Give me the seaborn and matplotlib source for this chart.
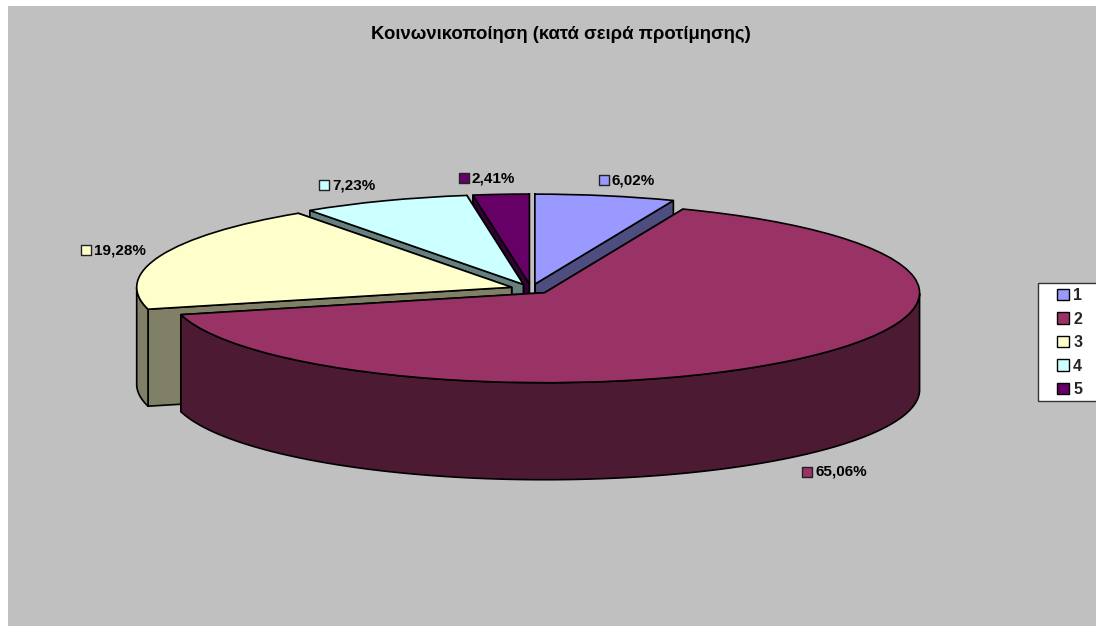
import numpy as np
import matplotlib
matplotlib.use("Agg")
import matplotlib.pyplot as plt
from matplotlib.patches import Rectangle
import seaborn as sns

# --- data ---
title = "Κοινωνικοποίηση (κατά σειρά προτίμησης)"
categories = ["1", "2", "3", "4", "5"]
values = [6.02, 65.06, 19.28, 7.23, 2.41]
value_labels = ["6,02%", "65,06%", "19,28%", "7,23%", "2,41%"]
top_colors = ["#9999FF", "#993366", "#FFFFCC", "#CCFFFF", "#660066"]

# --- layout (pixels of the 1096x626 canvas) ---
W, H = 1096, 626
PLOT_LEFT, PLOT_TOP = 8, 6
CX, CY, RX, RY, DEPTH = 531, 289, 375, 90, 97
EXPLODE = 0.055
label_marker_px = [(604, 180), (807, 472), (86, 250), (324, 185), (464, 178)]
draw_order = [4, 3, 0, 2, 1]   # back to front

sns.set_theme(style="white")
plt.rcParams["font.family"] = ["Liberation Sans", "DejaVu Sans"]
palette = sns.color_palette(top_colors)
dark_palette = [tuple(c * 0.5 for c in col) for col in palette]

fig = plt.figure(figsize=(W / 100, H / 100), dpi=100, facecolor="white")
ax = fig.add_axes([PLOT_LEFT / W, 0, (W - PLOT_LEFT) / W, (H - PLOT_TOP) / H])
ax.set_facecolor("#C0C0C0")

wedges, _ = ax.pie(values, colors=palette, explode=[EXPLODE] * len(values),
                   startangle=90, counterclock=False, radius=1, frame=True,
                   wedgeprops=dict(edgecolor="black", linewidth=1.2))
ax.set_aspect("auto")
ax.set_xlim((PLOT_LEFT - CX) / RX, (W - CX) / RX)
ax.set_ylim((CY - H) / RY, (CY - PLOT_TOP) / RY)
ax.set_xticks([]); ax.set_yticks([])
for s in ax.spines.values():
    s.set_visible(False)


def px(x, y):
    return (x - CX) / RX, (CY - y) / RY


depth = DEPTH / RY
for z, i in enumerate(draw_order):
    w = wedges[i]
    base = z * 10
    w.set_zorder(base + 3)
    cx, cy = w.center
    th = np.radians(np.linspace(w.theta1, w.theta2, 300))
    style = dict(facecolor=dark_palette[i], edgecolor="black", linewidth=1.2,
                 joinstyle="round")
    # cut faces
    for t in (th[0], th[-1]):
        rx_, ry_ = cx + np.cos(t), cy + np.sin(t)
        ax.fill([cx, rx_, rx_, cx], [cy, ry_, ry_ - depth, cy - depth],
                zorder=base + 1, **style)
    # outer rim wall (front half only)
    front = th[np.sin(th) < 0]
    if front.size > 1:
        xs = cx + np.cos(front)
        ys = cy + np.sin(front)
        ax.fill(np.r_[xs, xs[::-1]], np.r_[ys, ys[::-1] - depth],
                zorder=base + 2, **style)

# title
tx, ty = px(561, 34)
ax.text(tx, ty, title, ha="center", va="center", fontsize=13.3,
        fontweight="bold", color="black", zorder=200)

# data labels with their small colour keys
for (mx, my), lab, col in zip(label_marker_px, value_labels, palette):
    x, y = px(mx, my)
    ax.scatter([x], [y], marker="s", s=42, color=[col], edgecolors="#222222",
               linewidths=1, zorder=200)
    x2, y2 = px(mx + 8, my)
    ax.text(x2, y2, lab, ha="left", va="center", fontsize=11, fontweight="bold",
            color="black", zorder=200)

# legend box runs off the right edge
bx0, by0 = px(1038, 401)
bx1, by1 = px(1110, 283)
ax.add_patch(Rectangle((bx0, by0), bx1 - bx0, by1 - by0, facecolor="white",
                       edgecolor="#333333", linewidth=1, zorder=150))
lx, ly = px(1054, 285)
leg = ax.legend(wedges, categories, loc="upper left", bbox_to_anchor=(lx, ly),
                bbox_transform=ax.transData, frameon=False, borderaxespad=0,
                borderpad=0.2, handlelength=0.72, handleheight=0.72,
                handletextpad=0.28, labelspacing=0.53,
                prop=dict(size=11.5, weight="bold"))
leg.set_zorder(210)
for h in leg.legend_handles:
    h.set_linewidth(1)

fig.savefig("out.png", dpi=100, facecolor="white")
